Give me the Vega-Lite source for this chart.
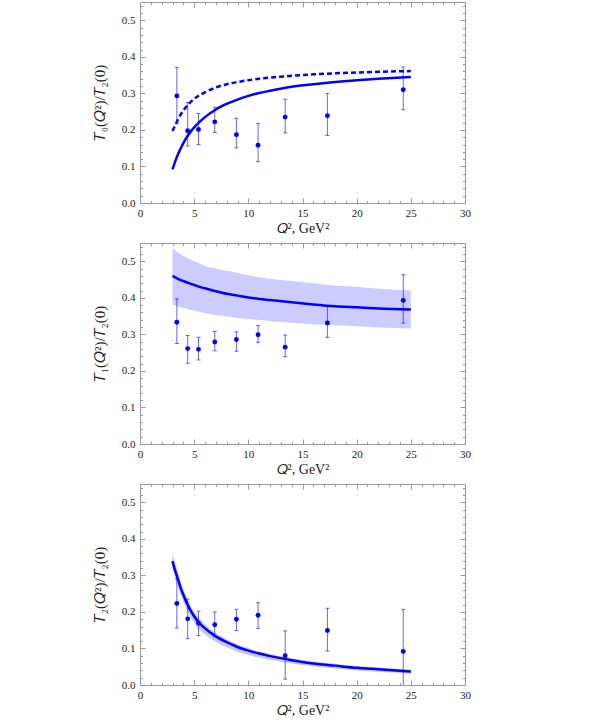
{
  "$schema": "https://vega.github.io/schema/vega-lite/v6.json",
  "background": "white",
  "padding": {"left": 91, "top": 1, "right": 5, "bottom": 2},
  "spacing": 6,
  "datasets": {
    "p1": [
      {"q": 3.4, "v": 0.293, "lo": 0.217, "hi": 0.371},
      {"q": 4.4, "v": 0.198, "lo": 0.156, "hi": 0.275},
      {"q": 5.4, "v": 0.201, "lo": 0.160, "hi": 0.245},
      {"q": 6.9, "v": 0.222, "lo": 0.193, "hi": 0.262},
      {"q": 8.9, "v": 0.187, "lo": 0.151, "hi": 0.232},
      {"q": 10.9, "v": 0.158, "lo": 0.113, "hi": 0.218},
      {"q": 13.4, "v": 0.235, "lo": 0.192, "hi": 0.284},
      {"q": 17.3, "v": 0.239, "lo": 0.185, "hi": 0.300},
      {"q": 24.3, "v": 0.310, "lo": 0.255, "hi": 0.372}
    ],
    "p2": [
      {"q": 3.4, "v": 0.333, "lo": 0.275, "hi": 0.397},
      {"q": 4.4, "v": 0.261, "lo": 0.221, "hi": 0.297},
      {"q": 5.4, "v": 0.259, "lo": 0.230, "hi": 0.292},
      {"q": 6.9, "v": 0.279, "lo": 0.255, "hi": 0.308},
      {"q": 8.9, "v": 0.286, "lo": 0.254, "hi": 0.307},
      {"q": 10.9, "v": 0.299, "lo": 0.278, "hi": 0.324},
      {"q": 13.4, "v": 0.265, "lo": 0.239, "hi": 0.298},
      {"q": 17.3, "v": 0.331, "lo": 0.292, "hi": 0.377},
      {"q": 24.3, "v": 0.393, "lo": 0.331, "hi": 0.463}
    ],
    "p3": [
      {"q": 3.4, "v": 0.223, "lo": 0.156, "hi": 0.290},
      {"q": 4.4, "v": 0.181, "lo": 0.127, "hi": 0.235},
      {"q": 5.4, "v": 0.169, "lo": 0.135, "hi": 0.202},
      {"q": 6.9, "v": 0.165, "lo": 0.132, "hi": 0.200},
      {"q": 8.9, "v": 0.180, "lo": 0.149, "hi": 0.207},
      {"q": 10.9, "v": 0.191, "lo": 0.155, "hi": 0.225},
      {"q": 13.4, "v": 0.080, "lo": 0.016, "hi": 0.148},
      {"q": 17.3, "v": 0.149, "lo": 0.093, "hi": 0.210},
      {"q": 24.3, "v": 0.092, "lo": -0.030, "hi": 0.207}
    ],
    "c1": [
      {"q": 3, "a": 0.092, "b": 0.197},
      {"q": 3.25, "a": 0.114, "b": 0.213},
      {"q": 3.5, "a": 0.133, "b": 0.228},
      {"q": 3.75, "a": 0.149, "b": 0.242},
      {"q": 4, "a": 0.164, "b": 0.253},
      {"q": 4.5, "a": 0.188, "b": 0.271},
      {"q": 5, "a": 0.207, "b": 0.285},
      {"q": 5.5, "a": 0.222, "b": 0.295},
      {"q": 6, "a": 0.235, "b": 0.303},
      {"q": 7, "a": 0.256, "b": 0.316},
      {"q": 8, "a": 0.271, "b": 0.325},
      {"q": 9, "a": 0.283, "b": 0.331},
      {"q": 10, "a": 0.293, "b": 0.336},
      {"q": 11, "a": 0.301, "b": 0.340},
      {"q": 12, "a": 0.307, "b": 0.343},
      {"q": 14, "a": 0.318, "b": 0.348},
      {"q": 16, "a": 0.325, "b": 0.352},
      {"q": 18, "a": 0.331, "b": 0.355},
      {"q": 20, "a": 0.336, "b": 0.357},
      {"q": 22, "a": 0.340, "b": 0.359},
      {"q": 25, "a": 0.345, "b": 0.361}
    ],
    "c2": [
      {"q": 3, "v": 0.460, "lo": 0.381, "hi": 0.535},
      {"q": 3.25, "v": 0.456, "lo": 0.379, "hi": 0.530},
      {"q": 3.5, "v": 0.452, "lo": 0.377, "hi": 0.524},
      {"q": 4, "v": 0.446, "lo": 0.372, "hi": 0.515},
      {"q": 4.5, "v": 0.440, "lo": 0.368, "hi": 0.507},
      {"q": 5, "v": 0.435, "lo": 0.365, "hi": 0.500},
      {"q": 5.5, "v": 0.430, "lo": 0.361, "hi": 0.494},
      {"q": 6, "v": 0.426, "lo": 0.358, "hi": 0.488},
      {"q": 7, "v": 0.418, "lo": 0.353, "hi": 0.480},
      {"q": 8, "v": 0.411, "lo": 0.349, "hi": 0.474},
      {"q": 9, "v": 0.406, "lo": 0.345, "hi": 0.468},
      {"q": 10, "v": 0.401, "lo": 0.342, "hi": 0.462},
      {"q": 11, "v": 0.397, "lo": 0.339, "hi": 0.457},
      {"q": 12, "v": 0.394, "lo": 0.336, "hi": 0.452},
      {"q": 14, "v": 0.388, "lo": 0.332, "hi": 0.446},
      {"q": 16, "v": 0.382, "lo": 0.328, "hi": 0.440},
      {"q": 18, "v": 0.377, "lo": 0.325, "hi": 0.434},
      {"q": 20, "v": 0.374, "lo": 0.322, "hi": 0.430},
      {"q": 22, "v": 0.371, "lo": 0.319, "hi": 0.425},
      {"q": 25, "v": 0.368, "lo": 0.316, "hi": 0.420}
    ],
    "c3": [
      {"q": 3, "v": 0.339, "lo": 0.322, "hi": 0.362},
      {"q": 3.25, "v": 0.312, "lo": 0.293, "hi": 0.333},
      {"q": 3.5, "v": 0.290, "lo": 0.270, "hi": 0.309},
      {"q": 3.75, "v": 0.266, "lo": 0.247, "hi": 0.284},
      {"q": 4, "v": 0.247, "lo": 0.228, "hi": 0.263},
      {"q": 4.5, "v": 0.213, "lo": 0.195, "hi": 0.228},
      {"q": 5, "v": 0.188, "lo": 0.170, "hi": 0.201},
      {"q": 5.5, "v": 0.169, "lo": 0.152, "hi": 0.181},
      {"q": 6, "v": 0.155, "lo": 0.138, "hi": 0.166},
      {"q": 7, "v": 0.133, "lo": 0.118, "hi": 0.142},
      {"q": 8, "v": 0.117, "lo": 0.103, "hi": 0.125},
      {"q": 9, "v": 0.104, "lo": 0.091, "hi": 0.111},
      {"q": 10, "v": 0.094, "lo": 0.082, "hi": 0.101},
      {"q": 11, "v": 0.086, "lo": 0.075, "hi": 0.092},
      {"q": 12, "v": 0.079, "lo": 0.069, "hi": 0.085},
      {"q": 14, "v": 0.068, "lo": 0.059, "hi": 0.073},
      {"q": 16, "v": 0.059, "lo": 0.051, "hi": 0.064},
      {"q": 18, "v": 0.053, "lo": 0.045, "hi": 0.058},
      {"q": 20, "v": 0.047, "lo": 0.040, "hi": 0.052},
      {"q": 22, "v": 0.043, "lo": 0.036, "hi": 0.048},
      {"q": 25, "v": 0.037, "lo": 0.031, "hi": 0.042}
    ]
  },
  "vconcat": [
    {
      "width": 325, "height": 201,
      "layer": [
        {
          "layer": [
            {
              "data": {"name": "c1"},
              "mark": {"type": "line", "color": "#0000ff", "strokeWidth": 2.5, "strokeDash": [5, 3], "interpolate": "monotone"},
              "encoding": {
                "x": {"field": "q", "type": "quantitative", "scale": {"domain": [0, 30]},
                  "axis": {"orient": "bottom", "values": [0,5,10,15,20,25,30], "tickSize": -5, "labelPadding": 9,
                    "title": "𝑄², GeV²", "titleFontSize": 14, "titlePadding": 3}},
                "y": {"field": "b", "type": "quantitative", "scale": {"domain": [0, 0.55]},
                  "axis": {"orient": "left", "values": [0,0.1,0.2,0.3,0.4,0.5], "format": ".1f", "tickSize": -5, "labelPadding": 10,
                    "title": "𝑇₀(𝑄²)/𝑇₂(0)", "titleFontSize": 15, "titlePadding": 14}}
              }
            },
            {
              "data": {"name": "c1"},
              "mark": {"type": "line", "color": "#0000ff", "strokeWidth": 2.5, "interpolate": "monotone"},
              "encoding": {"x": {"field": "q", "type": "quantitative"}, "y": {"field": "a", "type": "quantitative"}}
            },
            {
              "data": {"name": "p1"},
              "mark": {"type": "rule", "color": "#0000ff", "opacity": 0.6, "strokeWidth": 1, "clip": true},
              "encoding": {"x": {"field": "q", "type": "quantitative"}, "y": {"field": "lo", "type": "quantitative"}, "y2": {"field": "hi"}}
            },
            {
              "data": {"name": "p1"},
              "mark": {"type": "tick", "orient": "horizontal", "color": "#0000ff", "opacity": 0.6, "size": 4, "thickness": 1, "clip": true},
              "encoding": {"x": {"field": "q", "type": "quantitative"}, "y": {"field": "lo", "type": "quantitative"}}
            },
            {
              "data": {"name": "p1"},
              "mark": {"type": "tick", "orient": "horizontal", "color": "#0000ff", "opacity": 0.6, "size": 4, "thickness": 1, "clip": true},
              "encoding": {"x": {"field": "q", "type": "quantitative"}, "y": {"field": "hi", "type": "quantitative"}}
            },
            {
              "data": {"name": "p1"},
              "mark": {"type": "circle", "color": "#0000ff", "opacity": 1, "size": 24},
              "encoding": {"x": {"field": "q", "type": "quantitative"}, "y": {"field": "v", "type": "quantitative"}}
            }
          ]
        },
        {
          "data": {"name": "p1"},
          "mark": {"type": "point", "opacity": 0},
          "encoding": {
            "x": {"field": "q", "type": "quantitative", "scale": {"domain": [0, 30]},
              "axis": {"orient": "bottom", "values": [1,2,3,4,6,7,8,9,11,12,13,14,16,17,18,19,21,22,23,24,26,27,28,29], "tickSize": -2.5, "labels": false, "title": null}},
            "y": {"field": "v", "type": "quantitative", "scale": {"domain": [0, 0.55]},
              "axis": {"orient": "left", "values": [0.02,0.04,0.06,0.08,0.12,0.14,0.16,0.18,0.22,0.24,0.26,0.28,0.32,0.34,0.36,0.38,0.42,0.44,0.46,0.48,0.52,0.54], "tickSize": -2.5, "labels": false, "title": null}}
          }
        },
        {
          "data": {"name": "p1"},
          "mark": {"type": "point", "opacity": 0},
          "encoding": {
            "x": {"field": "q", "type": "quantitative", "scale": {"domain": [0, 30]},
              "axis": {"orient": "top", "values": [0,5,10,15,20,25,30], "tickSize": -5, "labels": false, "title": null}},
            "y": {"field": "v", "type": "quantitative", "scale": {"domain": [0, 0.55]},
              "axis": {"orient": "right", "values": [0,0.1,0.2,0.3,0.4,0.5], "tickSize": -5, "labels": false, "title": null}}
          }
        },
        {
          "data": {"name": "p1"},
          "mark": {"type": "point", "opacity": 0},
          "encoding": {
            "x": {"field": "q", "type": "quantitative", "scale": {"domain": [0, 30]},
              "axis": {"orient": "top", "values": [1,2,3,4,6,7,8,9,11,12,13,14,16,17,18,19,21,22,23,24,26,27,28,29], "tickSize": -2.5, "labels": false, "title": null}},
            "y": {"field": "v", "type": "quantitative", "scale": {"domain": [0, 0.55]},
              "axis": {"orient": "right", "values": [0.02,0.04,0.06,0.08,0.12,0.14,0.16,0.18,0.22,0.24,0.26,0.28,0.32,0.34,0.36,0.38,0.42,0.44,0.46,0.48,0.52,0.54], "tickSize": -2.5, "labels": false, "title": null}}
          }
        }
      ],
      "resolve": {"axis": {"x": "independent", "y": "independent"}}
    },
    {
      "width": 325, "height": 201,
      "layer": [
        {
          "layer": [
            {
              "data": {"name": "c2"},
              "mark": {"type": "area", "color": "#0000ff", "opacity": 0.2, "interpolate": "monotone"},
              "encoding": {
                "x": {"field": "q", "type": "quantitative", "scale": {"domain": [0, 30]},
                  "axis": {"orient": "bottom", "values": [0,5,10,15,20,25,30], "tickSize": -5, "labelPadding": 9,
                    "title": "𝑄², GeV²", "titleFontSize": 14, "titlePadding": 3}},
                "y": {"field": "lo", "type": "quantitative", "scale": {"domain": [0, 0.55]},
                  "axis": {"orient": "left", "values": [0,0.1,0.2,0.3,0.4,0.5], "format": ".1f", "tickSize": -5, "labelPadding": 10,
                    "title": "𝑇₁(𝑄²)/𝑇₂(0)", "titleFontSize": 15, "titlePadding": 14}},
                "y2": {"field": "hi"}
              }
            },
            {
              "data": {"name": "c2"},
              "mark": {"type": "line", "color": "#0000ff", "strokeWidth": 2.5, "interpolate": "monotone"},
              "encoding": {"x": {"field": "q", "type": "quantitative"}, "y": {"field": "v", "type": "quantitative"}}
            },
            {
              "data": {"name": "p2"},
              "mark": {"type": "rule", "color": "#0000ff", "opacity": 0.6, "strokeWidth": 1, "clip": true},
              "encoding": {"x": {"field": "q", "type": "quantitative"}, "y": {"field": "lo", "type": "quantitative"}, "y2": {"field": "hi"}}
            },
            {
              "data": {"name": "p2"},
              "mark": {"type": "tick", "orient": "horizontal", "color": "#0000ff", "opacity": 0.6, "size": 4, "thickness": 1, "clip": true},
              "encoding": {"x": {"field": "q", "type": "quantitative"}, "y": {"field": "lo", "type": "quantitative"}}
            },
            {
              "data": {"name": "p2"},
              "mark": {"type": "tick", "orient": "horizontal", "color": "#0000ff", "opacity": 0.6, "size": 4, "thickness": 1, "clip": true},
              "encoding": {"x": {"field": "q", "type": "quantitative"}, "y": {"field": "hi", "type": "quantitative"}}
            },
            {
              "data": {"name": "p2"},
              "mark": {"type": "circle", "color": "#0000ff", "opacity": 1, "size": 24},
              "encoding": {"x": {"field": "q", "type": "quantitative"}, "y": {"field": "v", "type": "quantitative"}}
            }
          ]
        },
        {
          "data": {"name": "p2"},
          "mark": {"type": "point", "opacity": 0},
          "encoding": {
            "x": {"field": "q", "type": "quantitative", "scale": {"domain": [0, 30]},
              "axis": {"orient": "bottom", "values": [1,2,3,4,6,7,8,9,11,12,13,14,16,17,18,19,21,22,23,24,26,27,28,29], "tickSize": -2.5, "labels": false, "title": null}},
            "y": {"field": "v", "type": "quantitative", "scale": {"domain": [0, 0.55]},
              "axis": {"orient": "left", "values": [0.02,0.04,0.06,0.08,0.12,0.14,0.16,0.18,0.22,0.24,0.26,0.28,0.32,0.34,0.36,0.38,0.42,0.44,0.46,0.48,0.52,0.54], "tickSize": -2.5, "labels": false, "title": null}}
          }
        },
        {
          "data": {"name": "p2"},
          "mark": {"type": "point", "opacity": 0},
          "encoding": {
            "x": {"field": "q", "type": "quantitative", "scale": {"domain": [0, 30]},
              "axis": {"orient": "top", "values": [0,5,10,15,20,25,30], "tickSize": -5, "labels": false, "title": null}},
            "y": {"field": "v", "type": "quantitative", "scale": {"domain": [0, 0.55]},
              "axis": {"orient": "right", "values": [0,0.1,0.2,0.3,0.4,0.5], "tickSize": -5, "labels": false, "title": null}}
          }
        },
        {
          "data": {"name": "p2"},
          "mark": {"type": "point", "opacity": 0},
          "encoding": {
            "x": {"field": "q", "type": "quantitative", "scale": {"domain": [0, 30]},
              "axis": {"orient": "top", "values": [1,2,3,4,6,7,8,9,11,12,13,14,16,17,18,19,21,22,23,24,26,27,28,29], "tickSize": -2.5, "labels": false, "title": null}},
            "y": {"field": "v", "type": "quantitative", "scale": {"domain": [0, 0.55]},
              "axis": {"orient": "right", "values": [0.02,0.04,0.06,0.08,0.12,0.14,0.16,0.18,0.22,0.24,0.26,0.28,0.32,0.34,0.36,0.38,0.42,0.44,0.46,0.48,0.52,0.54], "tickSize": -2.5, "labels": false, "title": null}}
          }
        }
      ],
      "resolve": {"axis": {"x": "independent", "y": "independent"}}
    },
    {
      "width": 325, "height": 201,
      "layer": [
        {
          "layer": [
            {
              "data": {"name": "c3"},
              "mark": {"type": "area", "color": "#0000ff", "opacity": 0.22, "interpolate": "monotone"},
              "encoding": {
                "x": {"field": "q", "type": "quantitative", "scale": {"domain": [0, 30]},
                  "axis": {"orient": "bottom", "values": [0,5,10,15,20,25,30], "tickSize": -5, "labelPadding": 9,
                    "title": "𝑄², GeV²", "titleFontSize": 14, "titlePadding": 3}},
                "y": {"field": "lo", "type": "quantitative", "scale": {"domain": [0, 0.55]},
                  "axis": {"orient": "left", "values": [0,0.1,0.2,0.3,0.4,0.5], "format": ".1f", "tickSize": -5, "labelPadding": 10,
                    "title": "𝑇₂(𝑄²)/𝑇₂(0)", "titleFontSize": 15, "titlePadding": 14}},
                "y2": {"field": "hi"}
              }
            },
            {
              "data": {"name": "c3"},
              "mark": {"type": "line", "color": "#0000ff", "strokeWidth": 2.5, "interpolate": "monotone"},
              "encoding": {"x": {"field": "q", "type": "quantitative"}, "y": {"field": "v", "type": "quantitative"}}
            },
            {
              "data": {"name": "p3"},
              "mark": {"type": "rule", "color": "#0000ff", "opacity": 0.6, "strokeWidth": 1, "clip": true},
              "encoding": {"x": {"field": "q", "type": "quantitative"}, "y": {"field": "lo", "type": "quantitative"}, "y2": {"field": "hi"}}
            },
            {
              "data": {"name": "p3"},
              "mark": {"type": "tick", "orient": "horizontal", "color": "#0000ff", "opacity": 0.6, "size": 4, "thickness": 1, "clip": true},
              "encoding": {"x": {"field": "q", "type": "quantitative"}, "y": {"field": "lo", "type": "quantitative"}}
            },
            {
              "data": {"name": "p3"},
              "mark": {"type": "tick", "orient": "horizontal", "color": "#0000ff", "opacity": 0.6, "size": 4, "thickness": 1, "clip": true},
              "encoding": {"x": {"field": "q", "type": "quantitative"}, "y": {"field": "hi", "type": "quantitative"}}
            },
            {
              "data": {"name": "p3"},
              "mark": {"type": "circle", "color": "#0000ff", "opacity": 1, "size": 24},
              "encoding": {"x": {"field": "q", "type": "quantitative"}, "y": {"field": "v", "type": "quantitative"}}
            }
          ]
        },
        {
          "data": {"name": "p3"},
          "mark": {"type": "point", "opacity": 0},
          "encoding": {
            "x": {"field": "q", "type": "quantitative", "scale": {"domain": [0, 30]},
              "axis": {"orient": "bottom", "values": [1,2,3,4,6,7,8,9,11,12,13,14,16,17,18,19,21,22,23,24,26,27,28,29], "tickSize": -2.5, "labels": false, "title": null}},
            "y": {"field": "v", "type": "quantitative", "scale": {"domain": [0, 0.55]},
              "axis": {"orient": "left", "values": [0.02,0.04,0.06,0.08,0.12,0.14,0.16,0.18,0.22,0.24,0.26,0.28,0.32,0.34,0.36,0.38,0.42,0.44,0.46,0.48,0.52,0.54], "tickSize": -2.5, "labels": false, "title": null}}
          }
        },
        {
          "data": {"name": "p3"},
          "mark": {"type": "point", "opacity": 0},
          "encoding": {
            "x": {"field": "q", "type": "quantitative", "scale": {"domain": [0, 30]},
              "axis": {"orient": "top", "values": [0,5,10,15,20,25,30], "tickSize": -5, "labels": false, "title": null}},
            "y": {"field": "v", "type": "quantitative", "scale": {"domain": [0, 0.55]},
              "axis": {"orient": "right", "values": [0,0.1,0.2,0.3,0.4,0.5], "tickSize": -5, "labels": false, "title": null}}
          }
        },
        {
          "data": {"name": "p3"},
          "mark": {"type": "point", "opacity": 0},
          "encoding": {
            "x": {"field": "q", "type": "quantitative", "scale": {"domain": [0, 30]},
              "axis": {"orient": "top", "values": [1,2,3,4,6,7,8,9,11,12,13,14,16,17,18,19,21,22,23,24,26,27,28,29], "tickSize": -2.5, "labels": false, "title": null}},
            "y": {"field": "v", "type": "quantitative", "scale": {"domain": [0, 0.55]},
              "axis": {"orient": "right", "values": [0.02,0.04,0.06,0.08,0.12,0.14,0.16,0.18,0.22,0.24,0.26,0.28,0.32,0.34,0.36,0.38,0.42,0.44,0.46,0.48,0.52,0.54], "tickSize": -2.5, "labels": false, "title": null}}
          }
        }
      ],
      "resolve": {"axis": {"x": "independent", "y": "independent"}}
    }
  ],
  "config": {
    "view": {"stroke": "#999999", "strokeWidth": 1},
    "font": "Liberation Serif",
    "axis": {
      "domain": false, "grid": false,
      "labelFont": "Liberation Serif", "labelFontSize": 11, "labelColor": "#222222",
      "titleFont": "Liberation Serif", "titleFontWeight": "normal", "titleColor": "#222222",
      "tickColor": "#999999", "labelOverlap": false, "labelFlush": false
    }
  }
}
